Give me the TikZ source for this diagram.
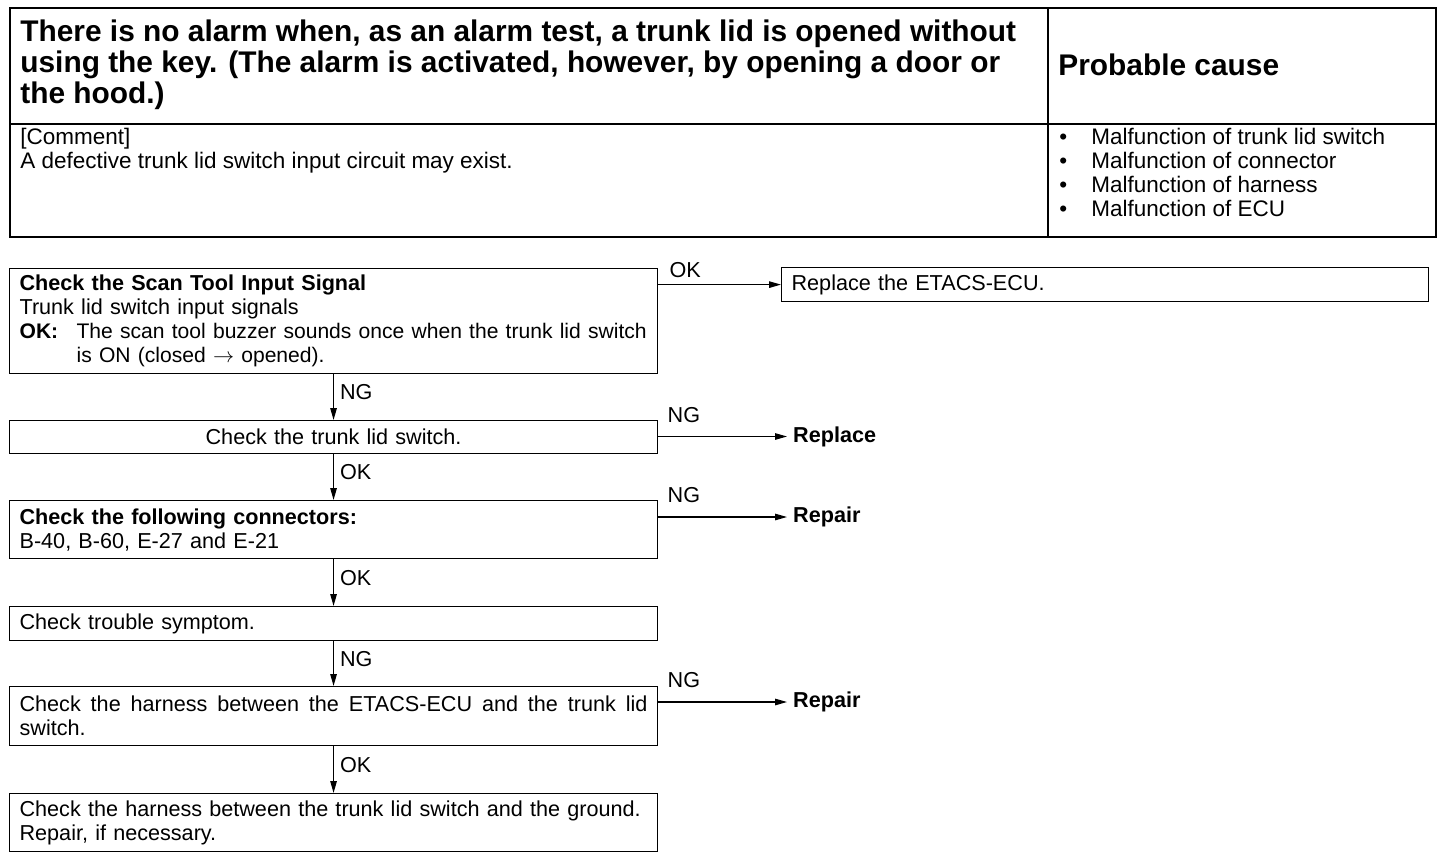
\documentclass[tikz,border=0pt]{standalone}
\usepackage{fontspec}
\setmainfont{Liberation Sans}
\usetikzlibrary{arrows.meta}
\begin{document}
\begin{tikzpicture}[x=0.02cm, y=-0.02cm,
		chk/.style={draw, line width=0.7pt, anchor=north west, minimum width=12.96cm, text width=12.56cm, inner xsep=0.2cm, inner ysep=0pt, align=left, font=\fontsize{12.3}{13.7}\selectfont},
		fix/.style={anchor=west, font=\fontsize{12.3}{13}\selectfont\bfseries},
		lbl/.style={font=\fontsize{12.3}{13}\selectfont},
		flow/.style={line width=0.7pt, -{Triangle[length=2.4mm, width=1.3mm]}}]
	\useasboundingbox (0,0) rectangle (1456,858);
	% header table
	\draw[line width=1.6pt] (10,8) rectangle (1436,237);
	\draw[line width=0.9pt] (1048,8) -- (1048,237);
	\draw[line width=0.9pt] (10,124) -- (1436,124);
	\node[anchor=west, align=left, inner sep=0, font=\fontsize{17}{17.6}\selectfont\bfseries] (symptom) at (20,65) {There is no alarm when, as an alarm test, a trunk lid is opened without\\using the key. (The alarm is activated, however, by opening a door or\\the hood.)};
	\node[anchor=west, inner sep=0, font=\fontsize{17}{17.6}\selectfont\bfseries] (cause) at (1058,65) {Probable cause};
	\node[anchor=north west, align=left, inner sep=0, font=\fontsize{12.8}{13.7}\selectfont] (comment) at (20,128) {[Comment]\\A defective trunk lid switch input circuit may exist.};
	\node[anchor=north west, align=left, inner sep=0, font=\fontsize{12.8}{13.7}\selectfont] (causes) at (1059,128) {\makebox[0.64cm][l]{\textbullet}Malfunction of trunk lid switch\\\makebox[0.64cm][l]{\textbullet}Malfunction of connector\\\makebox[0.64cm][l]{\textbullet}Malfunction of harness\\\makebox[0.64cm][l]{\textbullet}Malfunction of ECU};
	% flow
	\node[chk, minimum height=2.1cm] (scan) at (9,268) {\textbf{Check the Scan Tool Input Signal}\\Trunk lid switch input signals\\\fontsize{12}{13.7}\selectfont\makebox[1.14cm][l]{\textbf{OK:}}The scan tool buzzer sounds once when the trunk lid switch\\\hspace*{1.14cm}is ON (closed $\rightarrow$ opened).};
	\node[chk, minimum width=12.94cm, text width=12.54cm, minimum height=0.68cm] (ecu) at (781,267) {Replace the ETACS-ECU.};
	\node[chk, minimum height=0.66cm, align=center] (sw) at (9,420) {Check the trunk lid switch.};
	\node[chk, minimum height=1.16cm] (conn) at (9,500) {\textbf{Check the following connectors:}\\B-40, B-60, E-27 and E-21};
	\node[chk, minimum height=0.68cm] (sym) at (9,606) {Check trouble symptom.};
	\node[chk, minimum height=1.18cm, align=justify] (harn) at (9,686) {Check the harness between the ETACS-ECU and the trunk lid\linebreak switch.};
	\node[chk, minimum height=1.16cm] (gnd) at (9,793) {Check the harness between the trunk lid switch and the ground.\\Repair, if necessary.};
	\node[fix] (rpl) at (787,436.5) {Replace};
	\node[fix] (rep1) at (787,517) {Repair};
	\node[fix] (rep2) at (787,702) {Repair};
	\draw[flow] (scan.east |- ecu.west) -- (ecu.west) node[pos=0.22, above, lbl] {OK};
	\draw[flow] (scan) -- (sw) node[midway, right, lbl, yshift=0.1cm] {NG};
	\draw[flow] (sw.east |- rpl.west) -- (rpl.west) node[pos=0.2, above=0.15cm, lbl] {NG};
	\draw[flow] (sw) -- (conn) node[midway, right, lbl, yshift=0.1cm] {OK};
	\draw[flow] (conn.east |- rep1.west) -- (rep1.west) node[pos=0.2, above=0.15cm, lbl] {NG};
	\draw[flow] (conn) -- (sym) node[midway, right, lbl, yshift=0.1cm] {OK};
	\draw[flow] (sym) -- (harn) node[midway, right, lbl, yshift=0.1cm] {NG};
	\draw[flow] (harn.east |- rep2.west) -- (rep2.west) node[pos=0.2, above=0.15cm, lbl] {NG};
	\draw[flow] (harn) -- (gnd) node[midway, right, lbl, yshift=0.1cm] {OK};
\end{tikzpicture}
\end{document}
